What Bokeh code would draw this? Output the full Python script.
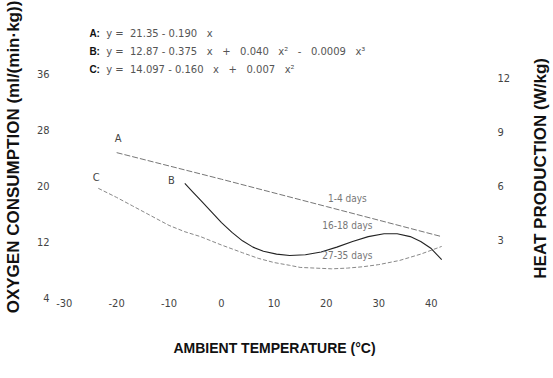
from bokeh.plotting import figure
from bokeh.models import Range1d, LinearAxis, FixedTicker, Label
from bokeh.layouts import row
from bokeh.embed import file_html
from bokeh.resources import INLINE
import math

# ---- data ----
x_ticks = [-30, -20, -10, 0, 10, 20, 30, 40]
o2_ticks = [4, 12, 20, 28, 36]
heat_ticks = [3, 6, 9, 12]

a_temp = [-20, 0, 20, 42]
a_o2 = [24.7, 20.9, 17.0, 12.7]

b_temp = [-7, -5.5, -4, -2, 0, 2, 4, 6, 8, 10.5, 13, 16, 19, 22, 25, 28, 31, 33.5, 36, 38, 40, 42]
b_o2 = [20.3, 19.1, 17.9, 16.3, 14.7, 13.3, 12.1, 11.2, 10.6, 10.2, 10.0, 10.1, 10.5, 11.2, 12.0, 12.7, 13.1, 13.1, 12.7, 12.0, 11.0, 9.4]

c_temp = [-23.5, -20, -17, -13.5, -10, -7, -4, 0, 4, 7, 10, 13, 15, 18, 21, 24, 27, 30, 34, 38, 42]
c_o2 = [19.6, 18.3, 17.1, 15.7, 14.3, 13.4, 12.7, 11.5, 10.4, 9.6, 9.0, 8.6, 8.3, 8.2, 8.1, 8.2, 8.4, 8.7, 9.3, 10.2, 11.3]

NB = "\u00a0"
def gap(n):
    return NB * (n - 1) + " "

eq_names = ["A:", "B:", "C:"]
eq_texts = ["y =" + gap(2) + "21.35 - 0.190" + gap(3) + "x",
            "y =" + gap(2) + "12.87 - 0.375" + gap(3) + "x" + gap(3) + "+" + gap(3) + "0.040" + gap(3)
            + "x\u00b2" + gap(3) + "-" + gap(3) + "0.0009" + gap(3) + "x\u00b3",
            "y =" + gap(2) + "14.097 - 0.160" + gap(3) + "x" + gap(3) + "+" + gap(3) + "0.007" + gap(3) + "x\u00b2"]
curve_names = ["A", "B", "C"]
age_labels = ["1-4 days", "16-18 days", "27-35 days"]

NARROW = "'Liberation Sans Narrow', 'DejaVu Sans Condensed', 'Liberation Sans', sans-serif"
BOLD = "'Liberation Sans', 'DejaVu Sans', sans-serif"

p = figure(width=525, height=378, output_backend="svg", toolbar_location=None,
           x_range=Range1d(-31.09, 51.31), y_range=Range1d(3.86, 44.29),
           min_border_left=54, min_border_right=35, min_border_top=15, min_border_bottom=80)
p.extra_y_ranges = {"heat": Range1d(-0.21, 15.43)}
p.outline_line_color = None
p.grid.visible = False
p.background_fill_color = "white"
p.border_fill_color = "white"

def style_axis(ax, ticks):
    ax.ticker = FixedTicker(ticks=ticks)
    ax.major_label_overrides = {t: str(t) for t in ticks}
    ax.axis_line_color = None
    ax.major_tick_line_color = None
    ax.minor_tick_line_color = None
    ax.major_label_text_font = NARROW
    ax.major_label_text_font_size = "11px"
    ax.major_label_text_color = "#444444"
    ax.axis_label_text_font = BOLD
    ax.axis_label_text_font_style = "bold"
    ax.axis_label_text_color = "#111111"

xa = p.xaxis[0]
style_axis(xa, x_ticks)
xa.major_label_standoff = -6
xa.axis_label = "AMBIENT TEMPERATURE (\u00b0C)"
xa.axis_label_text_font_size = "14px"
xa.axis_label_standoff = 30

ya = p.yaxis[0]
style_axis(ya, o2_ticks)
ya.major_label_standoff = 3
ya.axis_label = "OXYGEN CONSUMPTION (ml/(min\u00b7kg))"
ya.axis_label_text_font_size = "17px"
ya.axis_label_standoff = 11

ra = LinearAxis(y_range_name="heat")
style_axis(ra, heat_ticks)
ra.major_label_standoff = 1
p.add_layout(ra, "right")

p.line(a_temp, a_o2, line_color="#777777", line_width=1, line_dash="6 2")
p.line(b_temp, b_o2, line_color="#222222", line_width=1.1)
p.line(c_temp, c_o2, line_color="#888888", line_width=1, line_dash="4 2")

# equations block
eq_y = [41.7, 39.14, 36.57]
for name, txt, yy in zip(eq_names, eq_texts, eq_y):
    p.add_layout(Label(x=-25.2, y=yy, text=name, text_font=BOLD, text_font_style="bold",
                       text_font_size="10px", text_color="#111111", text_baseline="middle"))
    p.add_layout(Label(x=-22.0, y=yy, text=txt, text_font="'DejaVu Sans', sans-serif",
                       text_font_size="10px", text_color="#555555", text_baseline="middle"))

# curve letters
for name, xx, yy in zip(curve_names, [-19.7, -9.54, -23.9], [26.71, 20.71, 21.14]):
    p.add_layout(Label(x=xx, y=yy, text=name, text_font=NARROW, text_font_size="11px",
                       text_color="#444444", text_baseline="middle", text_align="center"))

for txt, xx, yy in zip(age_labels, [24.0, 24.0, 24.0], [18.14, 14.29, 10.0]):
    p.add_layout(Label(x=xx, y=yy, text=txt, text_font=NARROW, text_font_size="10px",
                       text_color="#777777", text_baseline="middle", text_align="center"))

# narrow strip carrying the right-hand axis title (reads bottom to top)
t = figure(width=28, height=378, output_backend="svg", toolbar_location=None,
           x_range=Range1d(0, 1), y_range=Range1d(0, 1),
           x_axis_location=None, y_axis_location=None,
           min_border=0, min_border_left=0, min_border_right=0, min_border_top=0, min_border_bottom=0)
t.outline_line_color = None
t.grid.visible = False
t.background_fill_color = "white"
t.border_fill_color = "white"
t.add_layout(Label(x=0.54, y=0.46, text="HEAT PRODUCTION (W/kg)", angle=math.pi / 2,
                   text_font=BOLD, text_font_style="bold", text_font_size="17px",
                   text_color="#111111", text_align="center", text_baseline="middle"))

open("out.html", "w").write(file_html(row(p, t, spacing=0), INLINE))
